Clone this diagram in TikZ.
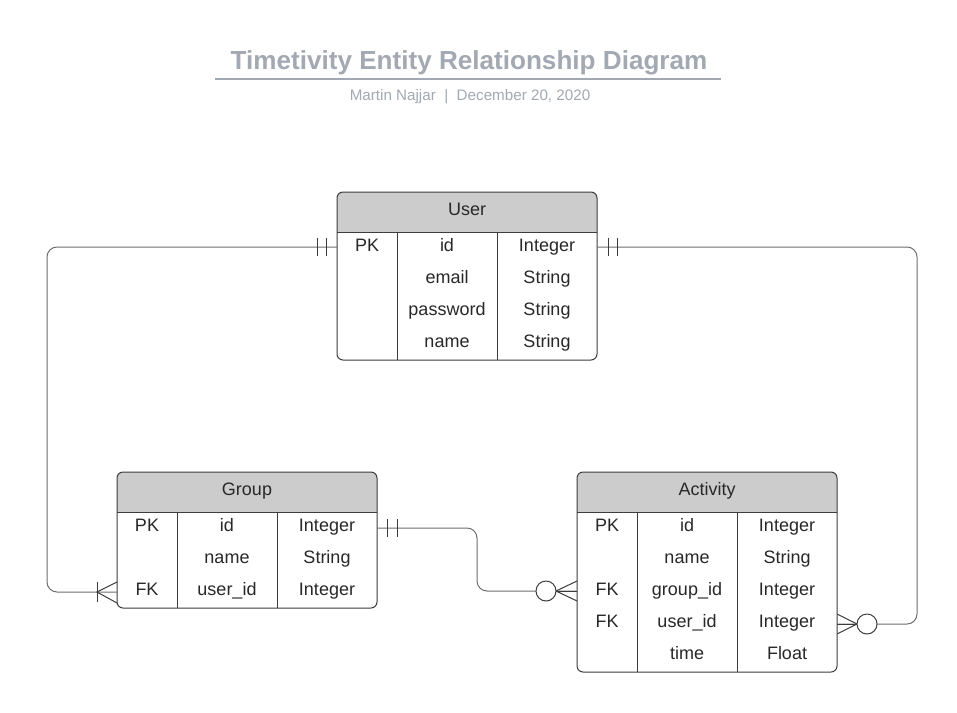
\documentclass[tikz,border=0pt]{standalone}
\usepackage{fontspec}
\setmainfont{Liberation Sans}
\usetikzlibrary{calc}
\definecolor{ttl}{RGB}{163,169,179}
\definecolor{hdr}{RGB}{204,204,204}
\definecolor{edgec}{RGB}{60,60,60}
\definecolor{connc}{RGB}{110,110,110}
\definecolor{txt}{RGB}{40,40,40}
\newcommand\ertbl[4]{%
  \begin{scope}[shift={#2}]
    \pgfmathsetmacro\tblh{40+32*#3}
    \fill[hdr] (0,40) [rounded corners=6] -- (0,0) -- (260,0) [sharp corners] -- (260,40) -- cycle;
    \node[tblbox, minimum height=\tblh] (#1) at (130,\tblh/2) {};
    \draw[edgec, line width=1pt] (0,40) -- (260,40);
    \draw[edgec, line width=1pt] (60,40) -- (60,\tblh) (160,40) -- (160,\tblh);
    \node[cell] (#1-title) at (130,17.5) {#4};
  \end{scope}}
\begin{document}
\begin{tikzpicture}[x=1pt,y=-1pt,
  cell/.style={font=\fontsize{18}{21}\selectfont, text=txt, inner sep=0pt, anchor=center, text height=12.9pt, text depth=0pt},
  tblbox/.style={draw=edgec, line width=1pt, rounded corners=6pt, minimum width=260pt, inner sep=0pt},
  conn/.style={draw=connc, line width=1pt},
  sym/.style={draw=edgec, line width=1pt}]
\useasboundingbox (0,0) rectangle (957,712);
\fill[white] (0,0) rectangle (957,712);

% title
\node[font=\bfseries\fontsize{26.1}{30}\selectfont, text=ttl, inner sep=0pt, text height=18.7pt, text depth=0pt] (title) at (469,60.5) {Timetivity Entity Relationship Diagram};
\draw[ttl, line width=2pt] (215,79) -- (721,79);
\node[font=\fontsize{15.2}{18}\selectfont, text=ttl, inner sep=0pt, text height=10.9pt, text depth=0pt] (subtitle) at (470,95) {Martin Najjar~~|~~December 20, 2020};

% tables
\ertbl{user}{(337,192)}{4}{User}
\ertbl{group}{(117,472)}{3}{Group}
\ertbl{activity}{(577,472)}{5}{Activity}

% User rows
\node[cell] (u1a) at (367,245) {PK};
\node[cell] (u1b) at (447,245) {id};
\node[cell] (u1c) at (547,245) {Integer};
\node[cell] (u2b) at (447,277) {email};
\node[cell] (u2c) at (547,277) {String};
\node[cell] (u3b) at (447,309) {password};
\node[cell] (u3c) at (547,309) {String};
\node[cell] (u4b) at (447,341) {name};
\node[cell] (u4c) at (547,341) {String};

% Group rows
\node[cell] (g1a) at (147,525) {PK};
\node[cell] (g1b) at (227,525) {id};
\node[cell] (g1c) at (327,525) {Integer};
\node[cell] (g2b) at (227,557) {name};
\node[cell] (g2c) at (327,557) {String};
\node[cell] (g3a) at (147,589) {FK};
\node[cell] (g3b) at (227,589) {user\_id};
\node[cell] (g3c) at (327,589) {Integer};

% Activity rows
\node[cell] (a1a) at (607,525) {PK};
\node[cell] (a1b) at (687,525) {id};
\node[cell] (a1c) at (787,525) {Integer};
\node[cell] (a2b) at (687,557) {name};
\node[cell] (a2c) at (787,557) {String};
\node[cell] (a3a) at (607,589) {FK};
\node[cell] (a3b) at (687,589) {group\_id};
\node[cell] (a3c) at (787,589) {Integer};
\node[cell] (a4a) at (607,621) {FK};
\node[cell] (a4b) at (687,621) {user\_id};
\node[cell] (a4c) at (787,621) {Integer};
\node[cell] (a5b) at (687,653) {time};
\node[cell] (a5c) at (787,653) {Float};

% connector end points
\coordinate (uL) at (337,247);
\coordinate (uR) at (597,247);
\coordinate (gR) at (377,528);
\coordinate (gL) at (117,592);
\coordinate (aL) at (577,591);
\coordinate (aR) at (837,624);

% connectors
\draw[conn, rounded corners=10pt] (uL) -- ++(-290,0) |- (gL);
\draw[conn, rounded corners=10pt] (uR) -- ++(320,0) |- (aR);
\draw[conn, rounded corners=10pt] (gR) -- ++(100,0) |- (aL);

% one-and-only-one bars
\draw[sym] ($(uL)+(-20,-9)$) -- ++(0,18) ($(uL)+(-11,-9)$) -- ++(0,18);
\draw[sym] ($(uR)+(11,-9)$) -- ++(0,18) ($(uR)+(20,-9)$) -- ++(0,18);
\draw[sym] ($(gR)+(10,-9)$) -- ++(0,18) ($(gR)+(20,-9)$) -- ++(0,18);

% one-to-many at Group
\draw[sym] ($(gL)+(0,-10)$) -- ($(gL)+(-20,0)$) -- ($(gL)+(0,11)$);
\draw[sym] ($(gL)+(-20,-10)$) -- ++(0,20);

% zero-to-many at Activity (left)
\draw[sym] ($(aL)+(0,-10)$) -- ($(aL)+(-21,0)$) -- ($(aL)+(0,10)$);
\draw[sym] (aL) -- ($(aL)+(-21,0)$);
\draw[sym, fill=white] ($(aL)+(-31,0)$) circle[radius=10];

% zero-to-many at Activity (right)
\draw[sym] ($(aR)+(0,-10)$) -- ($(aR)+(20,0)$) -- ($(aR)+(0,10)$);
\draw[sym] (aR) -- ($(aR)+(20,0)$);
\draw[sym, fill=white] ($(aR)+(30,0)$) circle[radius=10];
\end{tikzpicture}
\end{document}
